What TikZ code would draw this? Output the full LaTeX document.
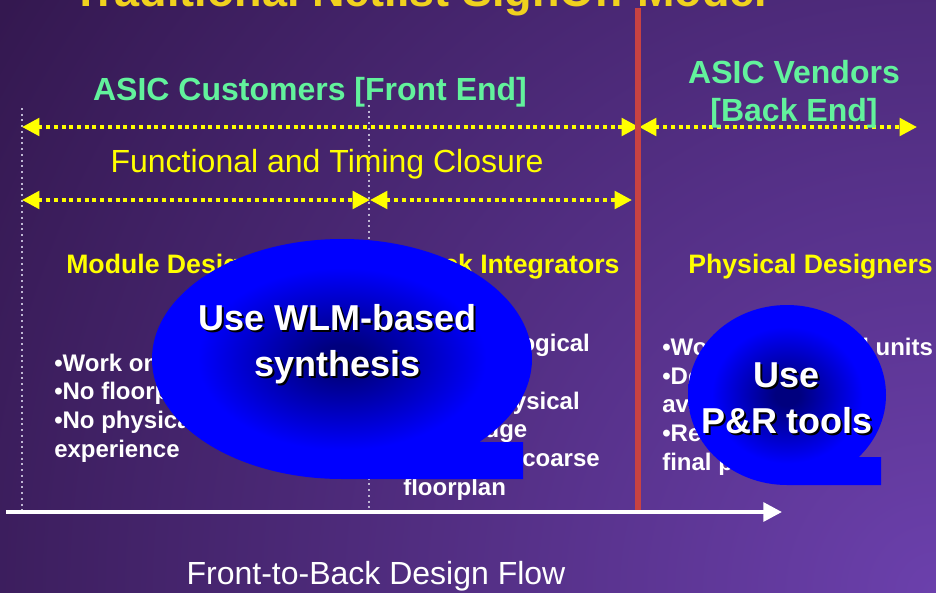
\documentclass[tikz,border=0pt]{standalone}
\usepackage{fontspec}
\setmainfont{Liberation Sans}
\usetikzlibrary{arrows.meta}

\definecolor{bgdark}{HTML}{341850}
\definecolor{bglight}{HTML}{6B40AC}
\definecolor{titleyellow}{HTML}{F0D21E}
\definecolor{headyellow}{HTML}{FFFF00}
\definecolor{asicgreen}{HTML}{62F29C}
\definecolor{signoffred}{HTML}{C84242}
\definecolor{guidegray}{HTML}{BEB6D2}
\definecolor{calloutnavy}{HTML}{00007E}
\definecolor{calloutblue}{HTML}{0000FF}

% dark core fading out to bright blue towards the rim of a callout
\pgfdeclareradialshading{calloutglow}{\pgfpoint{0bp}{0bp}}{%
  color(0bp)=(calloutnavy); color(3bp)=(calloutnavy);
  color(19bp)=(calloutblue); color(50bp)=(calloutblue)}

\begin{document}
\begin{tikzpicture}[x=0.75pt,y=-0.75pt,
  span/.style={draw=headyellow, line width=3pt, dash pattern=on 3pt off 2.8pt,
    {Triangle[length=13pt,width=13pt]}-{Triangle[length=13pt,width=13pt]}},
  guide/.style={draw=guidegray, line width=1.5pt, dash pattern=on 1.5pt off 2.8pt},
  head/.style={font=\fontsize{20}{24}\selectfont\bfseries, text=headyellow,
    inner sep=0pt, anchor=base west},
  bullets/.style={font=\fontsize{18}{21.5}\selectfont\bfseries, text=white,
    inner sep=0pt, anchor=base west, align=left},
  band/.style={font=\fontsize{24}{28.5}\selectfont\bfseries, text=asicgreen,
    inner sep=0pt, anchor=base},
  plain/.style={font=\fontsize{24}{28.8}\selectfont, inner sep=0pt, anchor=base},
  callouttext/.style={font=\fontsize{27}{34.5}\selectfont\bfseries,
    inner sep=0pt, align=center, anchor=base},
  calloutbody/.style={shading=calloutglow}
]
\useasboundingbox (0,0) rectangle (936,593);
\clip (0,0) rectangle (936,593);

% background: purple glow from the lower right corner
\fill[bgdark] (0,0) rectangle (936,593);
\shade[inner color=bglight, outer color=bgdark] (936,593) circle (1100);

% title, partly above the top edge
\node[font=\fontsize{33.75}{40}\selectfont\bfseries, text=titleyellow,
  inner sep=0pt, anchor=base west] (title) at (72,6) {Traditional Netlist SignOff Model};

% dotted guides
\coordinate (g1top) at (22,108);  \coordinate (g1bot) at (22,515);
\coordinate (g2top) at (369,105); \coordinate (g2bot) at (369,512);
\draw[guide] (g1top) -- (g1bot);
\draw[guide] (g2top) -- (g2bot);

% spans
\coordinate (r1l) at (22,127);  \coordinate (r1m) at (639,127); \coordinate (r1r) at (917,127);
\coordinate (r2l) at (22,200);  \coordinate (r2m) at (370,200); \coordinate (r2r) at (632,200);
\draw[span] (r1l) -- (r1m);
\draw[span] (r1m) -- (r1r);
\draw[span] (r2l) -- (r2m);
\draw[span] (r2m) -- (r2r);

% sign-off boundary
\coordinate (redtop) at (638,8); \coordinate (redbot) at (638,511);
\draw[signoffred, line width=4.5pt] (redtop) -- (redbot);

% flow axis
\coordinate (flowstart) at (6,512); \coordinate (flowend) at (782,512);
\draw[white, line width=3pt, -{Triangle[length=14pt,width=14pt]}] (flowstart) -- (flowend);

% labels (multi-line nodes sit on the baseline of their last line)
\node[band] (customers) at (310,100) {ASIC Customers [Front End]};
\node[band, align=center] (vendors) at (794,121) {ASIC Vendors\\{[}Back End]};
\node[plain, text=headyellow] (closure) at (327,172) {Functional and Timing Closure};
\node[plain, text=white] (flow) at (376,584) {Front-to-Back Design Flow};

\node[head] (module) at (66,273) {Module Designers};
\node[head] (block) at (400,273) {Block Integrators};
\node[head] (physical) at (688,273) {Physical Designers};

\node[bullets] (modlist) at (54,457)
  {•Work on logical blocks\\•No floorplanning\\•No physical design\\experience};
\node[bullets] (blklist) at (403,495)
  {•Work on logical\\units\\•Some physical\\knowledge\\•Generate coarse\\floorplan};
\node[bullets] (phylist) at (662,470)
  {•Work on physical units\\•Deal with\\available data\\•Responsible for\\final placement};

% callouts
\shade[calloutbody] (342,479) arc[start angle=90, end angle=403.76, x radius=190, y radius=120]
  -- (523,442) -- (523,479) -- cycle;
\node[callouttext, text=black] (wlmshade) at (339.5,378) {Use WLM-based\\synthesis};
\node[callouttext, text=white] (wlm) at (337.5,376) {Use WLM-based\\synthesis};

\shade[calloutbody] (787,485) arc[start angle=90, end angle=403.54, x radius=99, y radius=90]
  -- (881,457) -- (881,485) -- cycle;
\node[callouttext, text=black] (prshade) at (789,435) {Use\\P\&R tools};
\node[callouttext, text=white] (pr) at (787,433) {Use\\P\&R tools};
\end{tikzpicture}
\end{document}
